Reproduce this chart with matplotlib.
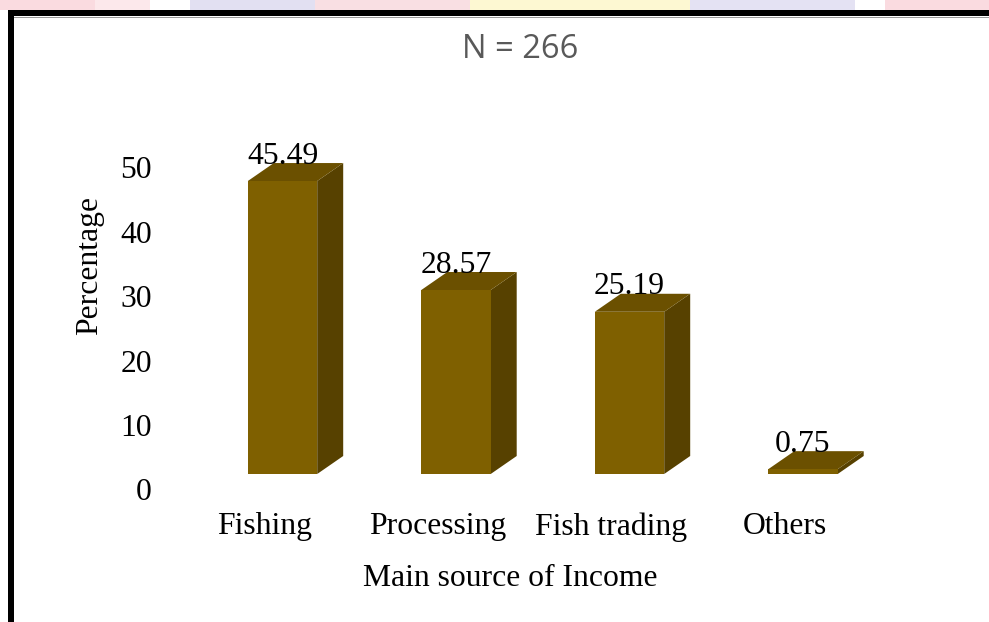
import numpy as np
import matplotlib
matplotlib.use('Agg')
import matplotlib.pyplot as plt
from matplotlib.patches import Polygon, Rectangle

# data
categories = ['Fishing', 'Processing', 'Fish trading', 'Others']
percent = [45.49, 28.57, 25.19, 0.75]
value_labels = ['45.49', '28.57', '25.19', '0.75']
y_ticks = [0, 10, 20, 30, 40, 50]

W, H = 989, 622
fig = plt.figure(figsize=(W / 100, H / 100), dpi=100)
fig.patch.set_facecolor('white')

# faint watermark strip above the frame
strip = [(0, 95, '#fadbe0'), (95, 150, '#fce8eb'), (150, 190, '#ffffff'),
         (190, 315, '#e2e0f2'), (315, 470, '#f9dfe3'), (470, 690, '#fdf8d2'),
         (690, 855, '#e4e2f3'), (855, 885, '#ffffff'), (885, 989, '#fadbe0')]
for x0, x1, c in strip:
    fig.add_artist(Rectangle((x0 / W, 1 - 10 / H), (x1 - x0) / W, 10 / H,
                             transform=fig.transFigure, color=c, lw=0))

# black frame (left and top)
fig.add_artist(Rectangle((8 / W, 0), 6 / W, (H - 10) / H, transform=fig.transFigure,
                         color='black', lw=0))
fig.add_artist(Rectangle((8 / W, 1 - 16 / H), (W - 8) / W, 6 / H, transform=fig.transFigure,
                         color='black', lw=0))
fig.add_artist(Rectangle((14 / W, 1 - 18 / H), (W - 14) / W, 1.2 / H, transform=fig.transFigure,
                         color='#9a9a9a', lw=0))

# axes placement (pixels)
x_lo, x_hi = -0.8, 3.8
y_lo, y_hi = -4, 55
ux, uy = 173.5, 6.44
x0_px, base_px = 282.5, 474
left = x0_px + x_lo * ux
right = x0_px + x_hi * ux
bottom = base_px - y_lo * uy
top = base_px - y_hi * uy
ax = fig.add_axes([left / W, 1 - bottom / H, (right - left) / W, (bottom - top) / H])
ax.set_xlim(x_lo, x_hi)
ax.set_ylim(y_lo, y_hi)
ax.patch.set_alpha(0)
for s in ax.spines.values():
    s.set_visible(False)

front_c = '#7f6000'
side_c = '#574100'
top_c = '#6b5000'
bw = 0.4
ddx = 26 / ux
ddy = 18 / uy

serif = 'Liberation Serif'
fs = 22.8

for i, v in enumerate(percent):
    xl, xr = i - bw / 2, i + bw / 2
    ax.add_patch(Polygon([(xr, 0), (xr + ddx, ddy), (xr + ddx, v + ddy), (xr, v)],
                         closed=True, fc=side_c, ec='none', clip_on=False))
    ax.add_patch(Polygon([(xl, v), (xr, v), (xr + ddx, v + ddy), (xl + ddx, v + ddy)],
                         closed=True, fc=top_c, ec='none', clip_on=False))
    ax.add_patch(Rectangle((xl, 0), bw, v, fc=front_c, ec='none', clip_on=False))
    ax.annotate(value_labels[i], (i, v), xytext=(0, 18), textcoords='offset points',
                ha='center', va='center', family=serif, fontsize=fs, color='black')

ax.set_yticks([t - 2.4 for t in y_ticks])
ax.set_yticklabels([str(t) for t in y_ticks], family=serif, fontsize=fs)
ax.set_xticks([i - 0.104 for i in range(len(categories))])
ax.set_xticklabels(categories, family=serif, fontsize=fs)
ax.tick_params(axis='y', length=0, pad=-6)
ax.tick_params(axis='x', length=0, pad=9)

fig.text(510 / W, 1 - 578 / H, 'Main source of Income', ha='center', va='center',
         family=serif, fontsize=fs)
fig.text(90 / W, 1 - 265 / H, 'Percentage', ha='center', va='center', rotation=90,
         family=serif, fontsize=fs)
fig.text(520 / W, 1 - 50 / H, 'N = 266', ha='center', va='center',
         family='Open Sans', fontsize=23.5, color='#595959')

fig.savefig('out.png', dpi=100)
